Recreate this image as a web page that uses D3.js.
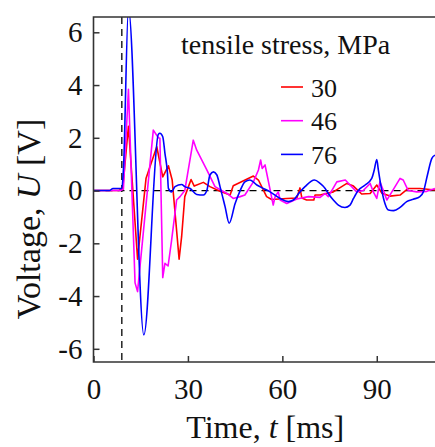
<!DOCTYPE html>
<html>
<head>
<meta charset="utf-8">
<script src="https://cdn.jsdelivr.net/npm/d3@7"></script>
<style>
  body { margin: 0; background: #fff; }
  svg { display: block; font-family: "Liberation Serif", "Times New Roman", serif; }
</style>
</head>
<body>
<svg id="chart" width="435" height="447"></svg>
<script>
// time [ms] and voltage [V], one pair of arrays per stress level
const time30 = [0, 8, 9.3, 11.1, 14.0, 16.7, 20.1, 22.0, 23.8, 25.0, 27.2, 28.0, 29.0, 31.0, 32.0, 34.9, 37.0, 40.2, 43.4, 44.4, 50.8, 52.4, 55.0, 56.6, 61.4, 64.6, 65.6, 66.2, 67.7, 70.0, 70.4, 72.0, 76.2, 80.5, 82.6, 85.2, 87.9, 90.0, 91.6, 94.2, 97.4, 100, 103.7, 108.5];
const volt30 = [0, 0, 0.1, 2.44, -2.6, 0.47, 1.66, 0.52, 0.94, 0.4, -2.6, -1.75, -0.23, 0.42, 0.17, 0.31, 0.15, -0.03, -0.17, 0.18, 0.55, 0.4, -0.23, -0.34, -0.3, -0.28, 0.1, -0.28, -0.36, -0.36, -0.17, -0.17, -0.05, 0.27, 0.17, -0.13, -0.11, 0.21, -0.1, -0.21, -0.17, 0.08, 0.08, 0.02];

const time46 = [0, 8.5, 9.5, 11.1, 13.2, 14.0, 19.0, 20.6, 21.1, 22.0, 22.7, 23.7, 24.8, 26.4, 27.5, 29.0, 31.7, 32.8, 36.0, 38.6, 40.7, 42.3, 44.4, 46.6, 48.1, 50.8, 52.4, 53.1, 53.6, 54.5, 55.6, 57.1, 57.7, 58.7, 59.3, 61.4, 64.6, 68.3, 72.0, 73.6, 74.6, 77.3, 80.0, 81.5, 83.6, 85.7, 87.9, 88.9, 90.0, 91.0, 92.1, 93.2, 94.8, 97.4, 98.4, 100, 102.7, 105.9, 108.5];
const volt46 = [0, 0, 0.05, 3.84, -3.5, -3.83, 2.29, 2.0, 1.98, -3.3, -2.76, -2.86, -1.9, -0.36, -0.23, 0, 1.91, 1.53, 0.78, 0.15, 0, -0.1, -0.3, -0.23, -0.17, 0.33, 0.78, 1.16, 0.84, 0.97, 0.33, -0.55, -0.23, -0.05, -0.36, -0.49, -0.32, -0.23, -0.26, -0.11, -0.23, 0.33, 0.4, 0.21, -0.05, 0, 0.27, -0.05, -0.3, 0.33, 0, -0.36, -0.05, 0.46, 0.4, 0, -0.05, -0.03, 0.08];

const time76 = [0, 5, 6.2, 9.0, 9.5, 11.1, 16.0, 20.6, 21.1, 22.0, 22.7, 23.5, 23.8, 24.8, 25.9, 28.0, 29.0, 30.7, 32.8, 34.9, 36.0, 37.0, 38.1, 39.2, 40.2, 41.8, 43.1, 45.0, 46.6, 48.1, 49.7, 51.9, 54.0, 56.1, 59.3, 61.9, 63.5, 65.6, 67.2, 70.2, 72.0, 73.6, 74.6, 76.2, 77.8, 79.9, 81.5, 82.6, 84.1, 86.3, 88.4, 89.2, 90.0, 90.5, 91.6, 92.6, 93.7, 95.3, 97.4, 99.5, 101.6, 103.7, 104.8, 106.1, 107.5, 108.5];
const volt76 = [0, 0, 0.08, 0.08, 0.78, 6.9, -5.47, 2.13, 2.17, 2.04, 1.41, 0.65, 0.08, -0.05, 0.15, 0.23, 0.15, 0.08, -0.15, -0.17, 0, 0.59, 0.71, 0.59, 0.15, -0.61, -1.24, -0.49, 0, 0.33, 0.4, 0.21, 0.08, -0.05, -0.3, -0.42, -0.36, -0.05, 0.15, 0.4, 0.27, 0.08, -0.11, -0.36, -0.55, -0.64, -0.55, -0.3, 0, 0.21, 0.46, 0.78, 1.18, 0.78, 0, -0.49, -0.74, -0.76, -0.64, -0.42, -0.33, -0.23, -0.05, 0.59, 1.22, 1.34];

const stressLabels = ['30', '46', '76'];
const xTicks = [0, 30, 60, 90];
const yTicks = [-6, -4, -2, 0, 2, 4, 6];
const onsetTime = 9;

const series = [
  { label: stressLabels[0], color: '#ff0000', t: time30, u: volt30, curve: d3.curveLinear },
  { label: stressLabels[1], color: '#ff00ff', t: time46, u: volt46, curve: d3.curveLinear },
  { label: stressLabels[2], color: '#0000ff', t: time76, u: volt76, curve: d3.curveMonotoneX }
];

const svg = d3.select('#chart');
const plotLeft = 93.5, plotRight = 435, plotTop = 17, plotBottom = 362;
const serif = '"Liberation Serif", "Times New Roman", serif';

const x = d3.scaleLinear().domain([0, 108.5]).range([plotLeft, plotRight]);
const y = d3.scaleLinear().domain([-6.5, 6.58]).range([plotBottom, plotTop]);

svg.append('defs').append('clipPath').attr('id', 'plot-clip')
  .append('rect')
  .attr('x', plotLeft).attr('y', plotTop)
  .attr('width', plotRight - plotLeft).attr('height', plotBottom - plotTop);

const plot = svg.append('g').attr('clip-path', 'url(#plot-clip)');

// reference dashed lines
plot.append('line')
  .attr('x1', plotLeft).attr('x2', plotRight)
  .attr('y1', y(0)).attr('y2', y(0))
  .attr('stroke', '#000').attr('stroke-width', 1.3)
  .attr('stroke-dasharray', '7,5');

plot.append('line')
  .attr('x1', x(onsetTime)).attr('x2', x(onsetTime))
  .attr('y1', plotTop).attr('y2', plotBottom)
  .attr('stroke', '#000').attr('stroke-width', 1.3)
  .attr('stroke-dasharray', '7,5');

series.forEach(s => {
  const pts = s.t.map((t, i) => [t, s.u[i]]);
  const line = d3.line()
    .x(d => x(d[0]))
    .y(d => y(d[1]))
    .curve(s.curve);
  plot.append('path')
    .datum(pts)
    .attr('fill', 'none')
    .attr('stroke', s.color)
    .attr('stroke-width', 1.6)
    .attr('stroke-linejoin', 'round')
    .attr('d', line);
});

// frame
svg.append('path')
  .attr('d', `M${plotRight},${plotTop}H${plotLeft}V${plotBottom}H${plotRight}`)
  .attr('fill', 'none')
  .attr('stroke', '#333')
  .attr('stroke-width', 1.6);

// axes with inward ticks
const xAxis = svg.append('g')
  .attr('transform', `translate(0,${plotBottom})`)
  .call(d3.axisBottom(x).tickValues(xTicks).tickSize(-6).tickPadding(16).tickFormat(d3.format('d')));
xAxis.attr('font-family', serif).attr('font-size', 29);
xAxis.select('.domain').remove();
xAxis.selectAll('line').attr('stroke', '#333').attr('stroke-width', 1.5);
xAxis.selectAll('text').attr('fill', '#111');

const yAxis = svg.append('g')
  .attr('transform', `translate(${plotLeft},0)`)
  .call(d3.axisLeft(y).tickValues(yTicks).tickSize(-6).tickPadding(11).tickFormat(d => d < 0 ? '-' + Math.abs(d) : d));
yAxis.attr('font-family', serif).attr('font-size', 29);
yAxis.select('.domain').remove();
yAxis.selectAll('line').attr('stroke', '#333').attr('stroke-width', 1.5);
yAxis.selectAll('text').attr('fill', '#111');

// axis titles
const xTitle = svg.append('text')
  .attr('x', (plotLeft + plotRight) / 2 + 1).attr('y', 438)
  .attr('text-anchor', 'middle')
  .attr('font-size', 32).attr('fill', '#111');
xTitle.append('tspan').text('Time, ');
xTitle.append('tspan').attr('font-style', 'italic').text('t');
xTitle.append('tspan').text(' [ms]');

const yTitle = svg.append('text')
  .attr('transform', 'translate(40,219) rotate(-90)')
  .attr('text-anchor', 'middle')
  .attr('font-size', 34).attr('fill', '#111');
yTitle.append('tspan').text('Voltage, ');
yTitle.append('tspan').attr('font-style', 'italic').text('U');
yTitle.append('tspan').text(' [V]');

// legend
svg.append('text')
  .attr('x', 181).attr('y', 54)
  .attr('font-size', 28).attr('fill', '#111')
  .text('tensile stress, MPa');

const legend = svg.append('g');
series.forEach((s, i) => {
  const ly = 87 + i * 33.7;
  legend.append('line')
    .attr('x1', 281).attr('x2', 303)
    .attr('y1', ly).attr('y2', ly)
    .attr('stroke', s.color).attr('stroke-width', 1.6);
  legend.append('text')
    .attr('x', 311).attr('y', ly + 9.5)
    .attr('font-size', 26).attr('fill', '#111')
    .text(s.label);
});
</script>
</body>
</html>
